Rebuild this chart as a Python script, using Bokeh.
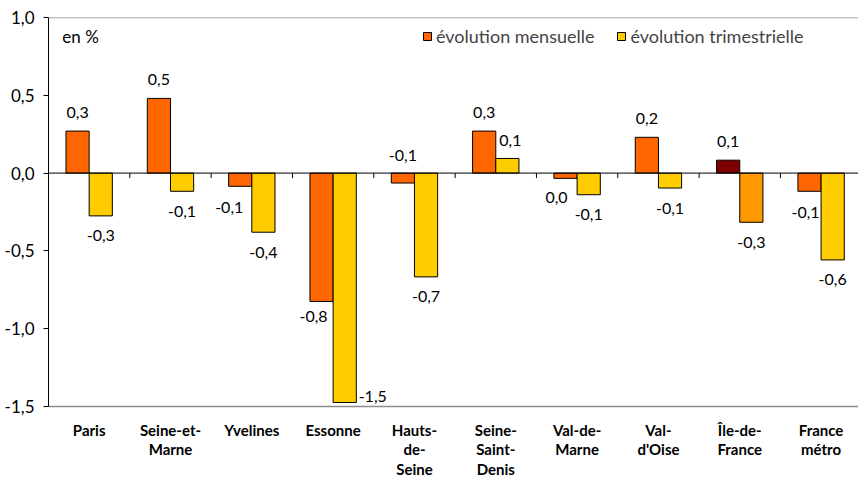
from bokeh.plotting import figure
from bokeh.models import (ColumnDataSource, Range1d, FixedTicker, Span, Legend,
                          LegendItem, Label)
from bokeh.core.properties import value
from bokeh.embed import file_html
from bokeh.resources import INLINE

# ---------------- data ----------------
categories = ["Paris", "Seine-et-\nMarne", "Yvelines", "Essonne", "Hauts-\nde-\nSeine",
              "Seine-\nSaint-\nDenis", "Val-de-\nMarne", "Val-\nd'Oise", "Île-de-\nFrance",
              "France\nmétro"]
mensuelle = [0.27, 0.48, -0.085, -0.825, -0.064, 0.27, -0.034, 0.23, 0.083, -0.117]
trimestrielle = [-0.275, -0.117, -0.38, -1.474, -0.667, 0.094, -0.139, -0.096, -0.316, -0.558]
y_ticks = [-1.5, -1.0, -0.5, 0.0, 0.5, 1.0]

# ---------------- style ----------------
FONT = "Lato"
C_M = "#FF6600"
C_T = "#FFCC00"
C_M_IDF = "#800000"
C_T_IDF = "#FF9900"
BAR_W = 0.285
PX_PER_UNIT = 156.4
# label adjustments (dx px, dy px, anchor at zero?) for special labels
label_adjust_m = {2: (-11, 21, False), 3: (-8, 15, False), 4: (0, -18, True),
                  6: (-9, 19, False), 9: (-4, 21, False)}
label_adjust_t = {3: (28, -6, False), 5: (3, -18, False)}


def fr(v):
    r = round(v, 1) + 0.0
    return f"{r:.1f}".replace(".", ",")


n = len(categories)
xc = [i + 0.5 for i in range(n)]
x_m = [c - BAR_W / 2 for c in xc]
x_t = [c + BAR_W / 2 for c in xc]
col_m = [C_M_IDF if categories[i].startswith("Île") else C_M for i in range(n)]
col_t = [C_T_IDF if categories[i].startswith("Île") else C_T for i in range(n)]

src_m = ColumnDataSource(dict(x=x_m, top=mensuelle, color=col_m))
src_t = ColumnDataSource(dict(x=x_t, top=trimestrielle, color=col_t))


def label_src(xs, vals, adjust):
    lx, ly, lt, dx, dy = [], [], [], [], []
    for i, v in enumerate(vals):
        a = adjust.get(i)
        if a is None:
            ddx, ddy, zero = 0, (-19 if v >= 0 else 20), False
        else:
            ddx, ddy, zero = a
        lx.append(xs[i])
        ly.append(0.0 if zero else v)
        lt.append(fr(v))
        dx.append(ddx)
        dy.append(ddy)
    return ColumnDataSource(dict(x=lx, y=ly, text=lt, dx=dx, dy=dy))


p = figure(width=858, height=481, output_backend="svg", toolbar_location=None,
           x_range=Range1d(0, 9.96), y_range=Range1d(-1.5, 1.0),
           min_border_left=48, min_border_right=0, min_border_top=17, min_border_bottom=73)
p.outline_line_color = None
p.xgrid.visible = False
p.ygrid.visible = False
p.background_fill_color = "white"
p.border_fill_color = "white"

# top border
p.add_layout(Span(location=1.0, dimension="width", line_color="#8c8c8c", line_width=1.5))

r_m = p.vbar(x="x", top="top", bottom=0, width=BAR_W, source=src_m,
             fill_color="color", line_color="black", line_width=1)
r_t = p.vbar(x="x", top="top", bottom=0, width=BAR_W, source=src_t,
             fill_color="color", line_color="black", line_width=1)

# zero line and its ticks
p.add_layout(Span(location=0, dimension="width", line_color="black", line_width=1))
tick_x = list(range(1, n))
p.segment(x0=tick_x, x1=tick_x, y0=[0] * len(tick_x), y1=[-5 / PX_PER_UNIT] * len(tick_x),
          line_color="black", line_width=1)

for xs, vals, adj in ((x_m, mensuelle, label_adjust_m), (x_t, trimestrielle, label_adjust_t)):
    p.text(x="x", y="y", text="text", x_offset="dx", y_offset="dy",
           source=label_src(xs, vals, adj), text_align="center", text_baseline="middle",
           text_font=value(FONT), text_font_size="16px", text_color="black")

# y axis
ya = p.yaxis[0]
ya.ticker = FixedTicker(ticks=y_ticks)
ya.major_label_overrides = {t: fr(t) for t in y_ticks}
ya.minor_tick_line_color = None
ya.major_tick_in = 0
ya.major_tick_out = 5
ya.axis_line_color = "black"
ya.major_tick_line_color = "black"
ya.major_label_text_font = FONT
ya.major_label_text_font_size = "17px"
ya.major_label_text_color = "black"
ya.major_label_standoff = 9

# x axis
xa = p.xaxis[0]
xa.ticker = FixedTicker(ticks=xc)
xa.major_label_overrides = {c: categories[i] for i, c in enumerate(xc)}
xa.minor_tick_line_color = None
xa.major_tick_line_color = None
xa.major_tick_in = 0
xa.major_tick_out = 0
xa.axis_line_color = "#8c8c8c"
xa.axis_line_width = 1.5
xa.major_label_text_font = FONT
xa.major_label_text_font_style = "bold"
xa.major_label_text_font_size = "15px"
xa.major_label_text_line_height = 1.1
xa.major_label_text_color = "black"
xa.major_label_standoff = 14

p.add_layout(Label(x=0.17, y=0.88, text="en %", text_font=FONT, text_font_size="17px",
                   text_baseline="middle", text_color="black"))

legend = Legend(items=[LegendItem(label="évolution mensuelle", renderers=[r_m], index=0),
                       LegendItem(label="évolution trimestrielle", renderers=[r_t], index=0)],
                orientation="horizontal", location=(374, 359), padding=0, margin=0,
                spacing=22, glyph_width=10, glyph_height=10, label_standoff=4,
                label_text_font=FONT, label_text_font_size="18px",
                border_line_color=None, background_fill_alpha=0)
p.add_layout(legend)

open("out.html", "w").write(file_html(p, INLINE))
